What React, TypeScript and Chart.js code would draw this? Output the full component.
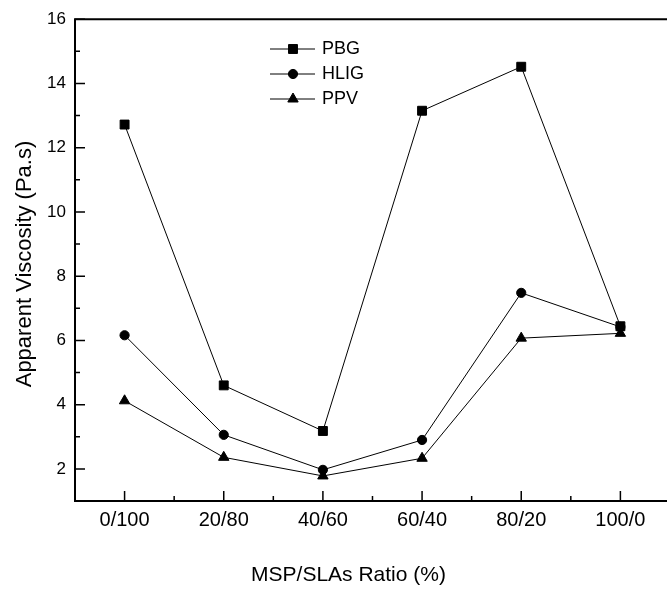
import React, { useEffect, useRef } from "react";
import { Chart, registerables } from "chart.js";

Chart.register(...registerables);

const categories = ["0/100", "20/80", "40/60", "60/40", "80/20", "100/0"];
const pbgValues = [12.72, 4.6, 3.18, 13.15, 14.52, 6.44];
const hligValues = [6.16, 3.06, 1.97, 2.9, 7.48, 6.42];
const ppvValues = [4.12, 2.36, 1.78, 2.33, 6.07, 6.22];
const yTickValues = [2, 4, 6, 8, 10, 12, 14, 16];
const yMinorTicks = [3, 5, 7, 9, 11, 13, 15];
const xMinorTicks = [0.5, 1.5, 2.5, 3.5, 4.5];
const seriesNames = ["PBG", "HLIG", "PPV"];
const yTitle = "Apparent Viscosity (Pa.s)";
const xTitle = "MSP/SLAs Ratio (%)";

const FONT = "'Liberation Sans', Arial, sans-serif";

const styles = [
  { pointStyle: "rect", radius: 6.3 },
  { pointStyle: "circle", radius: 4.6 },
  { pointStyle: "triangle", radius: 6 },
];

function drawMarker(ctx: CanvasRenderingContext2D, style: string, r: number, x: number, y: number) {
  ctx.beginPath();
  if (style === "rect") {
    const s = Math.SQRT1_2 * r;
    ctx.rect(x - s, y - s, 2 * s, 2 * s);
  } else if (style === "circle") {
    ctx.arc(x, y, r, 0, Math.PI * 2);
  } else {
    let rad = 0;
    ctx.moveTo(x + Math.sin(rad) * r, y - Math.cos(rad) * r);
    rad += (2 * Math.PI) / 3;
    ctx.lineTo(x + Math.sin(rad) * r, y - Math.cos(rad) * r);
    rad += (2 * Math.PI) / 3;
    ctx.lineTo(x + Math.sin(rad) * r, y - Math.cos(rad) * r);
    ctx.closePath();
  }
  ctx.fill();
  ctx.stroke();
}

const framePlugin = {
  id: "frame",
  afterDraw(chart: any) {
    const ctx = chart.ctx as CanvasRenderingContext2D;
    const { left, right, top, bottom } = chart.chartArea;
    const xs = chart.scales.x;
    const ys = chart.scales.y;
    ctx.save();
    ctx.strokeStyle = "#000";
    ctx.fillStyle = "#000";
    ctx.lineWidth = 2;
    ctx.beginPath();
    ctx.moveTo(left, top);
    ctx.lineTo(left, bottom);
    ctx.lineTo(right, bottom);
    ctx.moveTo(left - 1, top);
    ctx.lineTo(right, top);
    ctx.stroke();
    ctx.lineWidth = 1.5;
    ctx.beginPath();
    categories.forEach((_, i) => {
      const px = xs.getPixelForValue(i);
      ctx.moveTo(px, bottom);
      ctx.lineTo(px, bottom - 10);
    });
    xMinorTicks.forEach((v) => {
      const px = xs.getPixelForValue(v);
      ctx.moveTo(px, bottom);
      ctx.lineTo(px, bottom - 5);
    });
    yTickValues.forEach((v) => {
      const py = ys.getPixelForValue(v);
      ctx.moveTo(left, py);
      ctx.lineTo(left + 10, py);
    });
    yMinorTicks.forEach((v) => {
      const py = ys.getPixelForValue(v);
      ctx.moveTo(left, py);
      ctx.lineTo(left + 5, py);
    });
    ctx.stroke();
    // axis titles
    ctx.font = `21px ${FONT}`;
    ctx.textAlign = "center";
    ctx.textBaseline = "middle";
    ctx.fillText(xTitle, 348.5, 575);
    ctx.save();
    ctx.font = `22px ${FONT}`;
    ctx.translate(25, 264);
    ctx.rotate(-Math.PI / 2);
    ctx.fillText(yTitle, 0, 0);
    ctx.restore();
    // legend
    const lx0 = 270, lx1 = 315, mx = 293, tx = 322;
    const rows = [49, 74, 99];
    ctx.font = `18px ${FONT}`;
    ctx.textAlign = "left";
    seriesNames.forEach((name, i) => {
      const y = rows[i];
      ctx.lineWidth = 1;
      ctx.beginPath();
      ctx.moveTo(lx0, y);
      ctx.lineTo(lx1, y);
      ctx.stroke();
      drawMarker(ctx, styles[i].pointStyle, styles[i].radius, mx, y);
      ctx.fillText(name, tx, y);
    });
    ctx.restore();
  },
};

export default function App() {
  const ref = useRef<HTMLCanvasElement | null>(null);
  useEffect(() => {
    if (!ref.current) return;
    Chart.defaults.font.family = FONT;
    Chart.defaults.font.size = 16;
    Chart.defaults.color = "#000";
    const mk = (vals: number[], i: number) => ({
      label: seriesNames[i],
      data: vals.map((v, k) => ({ x: k, y: v })),
      borderColor: "#000",
      backgroundColor: "#000",
      borderWidth: 1,
      pointStyle: styles[i].pointStyle,
      pointRadius: styles[i].radius,
      pointBorderWidth: 1,
      pointBackgroundColor: "#000",
      pointBorderColor: "#000",
      tension: 0,
      fill: false,
    });
    const chart = new Chart(ref.current, {
      type: "line",
      data: {
        datasets: [mk(pbgValues, 0), mk(hligValues, 1), mk(ppvValues, 2)],
      },
      options: {
        animation: false,
        responsive: false,
        devicePixelRatio: 1,
        layout: { autoPadding: false, padding: { top: 17, left: 0, right: 0, bottom: 0 } },
        plugins: { legend: { display: false }, tooltip: { enabled: false } },
        scales: {
          x: {
            type: "linear",
            min: -0.5,
            max: 5.47,
            grid: { display: false, drawTicks: false },
            border: { display: false },
            afterBuildTicks: (s: any) => {
              s.ticks = categories.map((_, i) => ({ value: i }));
            },
            afterFit: (s: any) => {
              s.height = 93;
            },
            ticks: {
              autoSkip: false,
              maxRotation: 0,
              padding: 7,
              font: { size: 20 },
              callback: (v: any) => categories[Math.round(Number(v))] ?? "",
            },
          },
          y: {
            type: "linear",
            min: 1,
            max: 16,
            grid: { display: false, drawTicks: false },
            border: { display: false },
            afterBuildTicks: (s: any) => {
              s.ticks = yTickValues.map((v) => ({ value: v }));
            },
            afterFit: (s: any) => {
              s.width = 75;
            },
            ticks: { padding: 9, font: { size: 17 } },
          },
        },
      } as any,
      plugins: [framePlugin],
    });
    return () => chart.destroy();
  }, []);
  return (
    <div style={{ position: "absolute", left: 0, top: 0, width: 667, height: 594, background: "#fff" }}>
      <canvas ref={ref} width={667} height={594} style={{ display: "block" }} />
    </div>
  );
}
